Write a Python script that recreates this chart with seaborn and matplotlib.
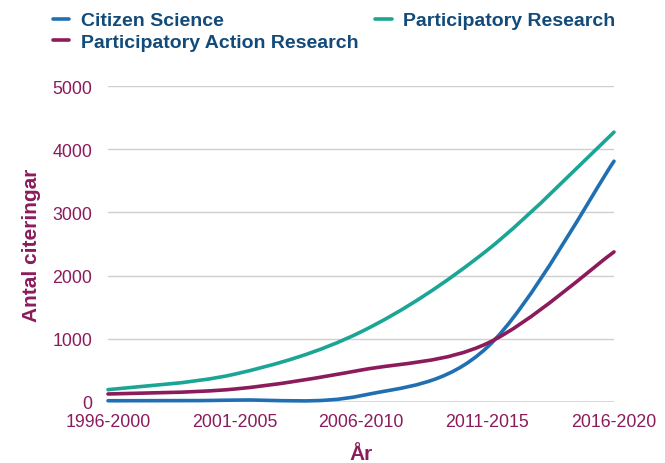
import numpy as np
import matplotlib

matplotlib.use('Agg')
import matplotlib.pyplot as plt
import seaborn as sns
from matplotlib.path import Path
from matplotlib.patches import PathPatch
from matplotlib.lines import Line2D

# data
periods = ['1996-2000', '2001-2005', '2006-2010', '2011-2015', '2016-2020']
citizen_science = [20, 30, 100, 870, 3810]
participatory_research = [195, 440, 1110, 2405, 4270]
participatory_action_research = [127, 205, 505, 930, 2375]

series_names = ['Citizen Science', 'Participatory Action Research', 'Participatory Research']
series_values = [citizen_science, participatory_action_research, participatory_research]
series_colors = ['#1f6fb2', '#8c1b5c', '#1aa594']

magenta = '#8c1b5c'
navy = '#124a7a'


def smooth_path(xs, ys):
    """Catmull-Rom -> cubic bezier path through the points (render only)"""
    pts = np.column_stack([xs, ys]).astype(float)
    n = len(pts)
    verts = [pts[0]]
    codes = [Path.MOVETO]
    for i in range(n - 1):
        p0 = pts[i - 1] if i > 0 else pts[i]
        p1 = pts[i]
        p2 = pts[i + 1]
        p3 = pts[i + 2] if i + 2 < n else pts[i + 1]
        c1 = p1 + (p2 - p0) / 6.0
        c2 = p2 - (p3 - p1) / 6.0
        verts += [c1, c2, p2]
        codes += [Path.CURVE4] * 3
    return Path(verts, codes)


sns.set_theme(style='white')
plt.rcParams['font.family'] = ['Liberation Sans', 'DejaVu Sans']

fig = plt.figure(figsize=(6.65, 4.64), dpi=100)
ax = fig.add_axes([108 / 665, 1 - 403 / 464, (614 - 108) / 665, (403 - 87) / 464])

x = np.arange(len(periods))

ax.set_xlim(0, len(periods) - 1)
ax.set_ylim(0, 5000)
ax.set_yticks([0, 1000, 2000, 3000, 4000, 5000])
ax.set_xticks(x)
ax.set_xticklabels(periods)

# grid
for yv in [1000, 2000, 3000, 4000, 5000]:
    ax.axhline(yv, color='#cfcfcf', lw=1.0, zorder=0)
ax.axhline(0, color='#444444', lw=1.0, zorder=1)

handles = []
for name, vals, col in zip(series_names, series_values, series_colors):
    patch = PathPatch(smooth_path(x, vals), facecolor='none', edgecolor=col,
                      lw=2.6, capstyle='round', zorder=3, clip_on=False)
    ax.add_patch(patch)
    handles.append(Line2D([], [], color=col, lw=2.6, label=name))

sns.despine(ax=ax, left=True, bottom=True)
ax.tick_params(axis='both', length=0, labelsize=12.8, labelcolor=magenta)
ax.tick_params(axis='y', pad=11.5)
ax.tick_params(axis='x', pad=8)

ax.set_ylabel('Antal citeringar', fontsize=15, fontweight='bold', color=magenta)
ax.yaxis.set_label_coords(-(108 - 41) / 506, 0.5)
ax.set_xlabel('År', fontsize=15, fontweight='bold', color=magenta)
ax.xaxis.set_label_coords(0.5, -(445 - 403) / 316)

leg = fig.legend(handles=handles, ncol=2, loc='upper left',
                 bbox_to_anchor=(43 / 665, 1 - 3 / 464), frameon=False,
                 fontsize=14, handlelength=0.85, handletextpad=0.6,
                 columnspacing=0.85, labelspacing=0.2, borderpad=0)
for t in leg.get_texts():
    t.set_color(navy)
    t.set_fontweight('bold')

fig.savefig('out.png', dpi=100)
plt.close(fig)
